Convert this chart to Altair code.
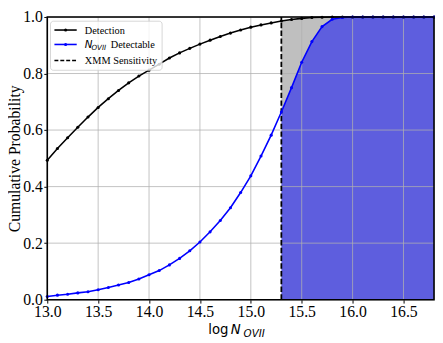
import altair as alt
import pandas as pd

# ---------------- data ----------------
LOG_N = [13.0, 13.1, 13.2, 13.3, 13.4, 13.5, 13.6, 13.7, 13.8, 13.9,
         14.0, 14.1, 14.2, 14.3, 14.4, 14.5, 14.6, 14.7, 14.8, 14.9,
         15.0, 15.1, 15.2, 15.3, 15.4, 15.5, 15.6, 15.7, 15.8, 15.9,
         16.0, 16.1, 16.2, 16.3, 16.4, 16.5, 16.6, 16.7, 16.8]
DETECTION = [0.493, 0.535, 0.573, 0.610, 0.646, 0.680, 0.711, 0.740, 0.767, 0.791,
             0.812, 0.833, 0.855, 0.873, 0.889, 0.904, 0.918, 0.931, 0.943, 0.954,
             0.964, 0.972, 0.979, 0.986, 0.991, 0.995, 0.998, 0.999, 1.000, 1.000,
             1.000, 1.000, 1.000, 1.000, 1.000, 1.000, 1.000, 1.000, 1.000]
DETECTABLE = [0.011, 0.016, 0.019, 0.024, 0.028, 0.035, 0.043, 0.052, 0.061, 0.073,
              0.088, 0.103, 0.123, 0.146, 0.173, 0.204, 0.240, 0.280, 0.325, 0.379,
              0.438, 0.508, 0.582, 0.664, 0.750, 0.840, 0.913, 0.966, 0.992, 0.998,
              1.000, 1.000, 1.000, 1.000, 1.000, 1.000, 1.000, 1.000, 1.000]
XMM_SENS = 15.3
X_TICKS = [13.0, 13.5, 14.0, 14.5, 15.0, 15.5, 16.0, 16.5]
Y_TICKS = [0.0, 0.2, 0.4, 0.6, 0.8, 1.0]
X_DOMAIN = [13.0, 16.8]
Y_DOMAIN = [0.0, 1.0]

df = pd.DataFrame({"logN": LOG_N, "det": DETECTION, "detectable": DETECTABLE})
sens_df = pd.DataFrame({"logN": [XMM_SENS], "y0": [0.0], "y1": [1.0]})
xgrid_df = pd.DataFrame({"v": X_TICKS})
ygrid_df = pd.DataFrame({"v": Y_TICKS})
one = pd.DataFrame({"a": [0]})

W, H = 394, 288
SERIF = "Liberation Serif"
SANS = "DejaVu Sans"

x_axis = alt.Axis(values=X_TICKS, format=".1f", title=None, grid=False, domain=False,
                  labelFont=SERIF, labelFontSize=16, labelColor="black",
                  tickColor="black", tickSize=3.5, tickWidth=1, labelPadding=1,
                  labelFlush=False)
y_axis = alt.Axis(values=Y_TICKS, format=".1f", title="Cumulative Probability", grid=False,
                  domain=False, labelFont=SERIF, labelFontSize=16, labelColor="black",
                  tickColor="black", tickSize=3.5, tickWidth=1, labelPadding=1.5,
                  labelFlush=False, titleFont=SERIF, titleFontSize=16,
                  titleFontWeight="normal", titleColor="black", titlePadding=0)
xs = alt.Scale(domain=X_DOMAIN, nice=False, zero=False)
ys = alt.Scale(domain=Y_DOMAIN, nice=False, zero=False)


def X(field):
    return alt.X(field, type="quantitative", scale=xs, axis=x_axis)


def Y(field):
    return alt.Y(field, type="quantitative", scale=ys, axis=y_axis)


base = alt.Chart(df)
beyond = base.transform_filter(alt.datum.logN >= XMM_SENS)

gray_area = beyond.mark_area(color="#bfbfbf", opacity=1).encode(
    x=X("logN"), y=Y("detectable"), y2="det")
blue_area = beyond.mark_area(color="#5e5ede", opacity=1).encode(
    x=X("logN"), y=Y("detectable"))

vgrid = alt.Chart(xgrid_df).mark_rule(color="#b0b0b0", strokeWidth=0.9, opacity=0.85).encode(
    x=X("v"))
hgrid = alt.Chart(ygrid_df).mark_rule(color="#b0b0b0", strokeWidth=0.9, opacity=0.85).encode(
    y=Y("v"))

sens = alt.Chart(sens_df).mark_rule(color="black", strokeWidth=1.8, strokeDash=[5.5, 2.4]).encode(
    x=X("logN"), y=Y("y0"), y2="y1")

det_line = base.mark_line(color="black", strokeWidth=1.6,
                          point=alt.OverlayMarkDef(color="black", size=10, filled=True)).encode(
    x=X("logN"), y=Y("det"))
dtb_line = base.mark_line(color="#0000ff", strokeWidth=1.6,
                          point=alt.OverlayMarkDef(color="#0000ff", size=10, filled=True)).encode(
    x=X("logN"), y=Y("detectable"))

frame = alt.Chart(one).mark_rect(fillOpacity=0, stroke="black", strokeWidth=1.6).encode(
    x=alt.value(0), x2=alt.value(W), y=alt.value(0), y2=alt.value(H))

# ------------- manual legend -------------
leg_box = alt.Chart(one).mark_rect(fill="white", fillOpacity=0.8, stroke="#cccccc",
                                   strokeWidth=0.8, cornerRadius=3).encode(
    x=alt.value(3.3), x2=alt.value(117), y=alt.value(4.3), y2=alt.value(54.3))

rows_y = [13.3, 28.0, 44.3]


def leg_line(yv, color, dash=None):
    kw = dict(color=color, strokeWidth=1.6)
    if dash:
        kw["strokeDash"] = dash
    return alt.Chart(one).mark_rule(**kw).encode(
        x=alt.value(7.3), x2=alt.value(30), y=alt.value(yv))


def leg_pt(yv, color):
    return alt.Chart(one).mark_point(filled=True, color=color, size=10, opacity=1).encode(
        x=alt.value(18.7), y=alt.value(yv))


def txt(s, xv, yv, font, size, style="normal", baseline="alphabetic"):
    return alt.Chart(one).mark_text(text=s, font=font, fontSize=size, fontStyle=style,
                                    align="left", baseline=baseline, color="black").encode(
        x=alt.value(xv), y=alt.value(yv))


legend = [
    leg_box,
    leg_line(rows_y[0], "black"), leg_pt(rows_y[0], "black"),
    txt("Detection", 38.3, rows_y[0] + 3.6, SERIF, 10.5),
    leg_line(rows_y[1], "#0000ff"), leg_pt(rows_y[1], "#0000ff"),
    txt("N", 38.3, rows_y[1] + 3.6, SANS, 10.5, "italic"),
    txt("OVII", 45.0, rows_y[1] + 5.6, SANS, 7.3, "italic"),
    txt("Detectable", 64.7, rows_y[1] + 3.6, SERIF, 10.5),
    leg_line(rows_y[2], "black", [4, 2]),
    txt("XMM Sensitivity", 38.3, rows_y[2] + 3.6, SERIF, 10.5),
]

# ------------- manual x title -------------
xtitle = [
    txt("log", 164.0, 323.2, SANS, 13.5),
    txt("N", 187.0, 323.2, SANS, 13.5, "italic"),
    txt("OVII", 200.0, 325.8, SANS, 10.5, "italic"),
]

chart = alt.layer(
    gray_area, blue_area, vgrid, hgrid, sens, det_line, dtb_line, frame,
    *legend, *xtitle
).properties(
    width=W, height=H,
    autosize=alt.AutoSizeParams(type="none"),
    padding={"left": 40, "top": 6, "right": 1, "bottom": 42},
).configure_view(stroke=None).configure(background="white")

chart.save("out.html", embed_options={"renderer": "svg", "actions": False})
